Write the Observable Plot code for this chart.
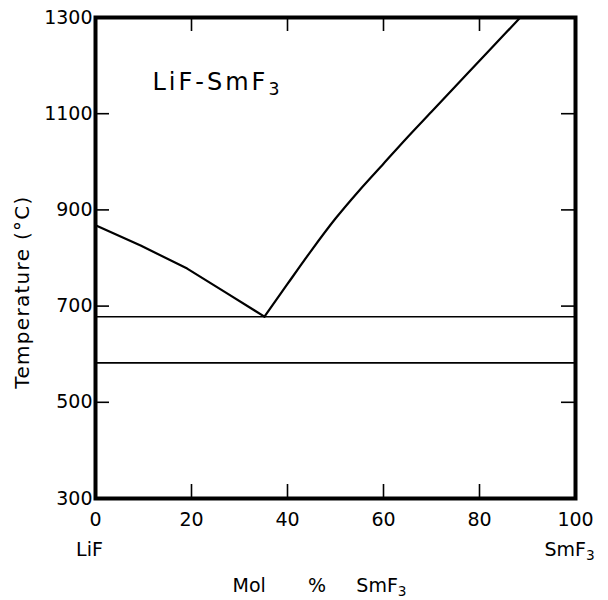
<!DOCTYPE html>
<html>
<head>
<meta charset="utf-8">
<script src="https://cdn.jsdelivr.net/npm/d3@7"></script>
<script src="https://cdn.jsdelivr.net/npm/@observablehq/plot@0.6"></script>
<style>
  html, body { margin: 0; padding: 0; background: #fff; }
  #chart svg { display: block; }
</style>
</head>
<body>
<div id="chart"></div>
<script>
// ---- data ----
const xTicks = [0, 20, 40, 60, 80, 100];
const yTicks = [300, 500, 700, 900, 1100, 1300];

// LiF-rich liquidus (mol % SmF3, °C)
const liqLeftX = [0, 9.4, 19.1, 27, 35.2];
const liqLeftT = [868, 826, 778, 729, 678];

// SmF3-rich liquidus
const liqRightX = [35.2, 40, 45, 50, 55, 60, 65, 70, 75, 80, 85, 88.5];
const liqRightT = [678, 746, 816, 882, 941, 996, 1051, 1104, 1157, 1210, 1263, 1300];

// horizontal invariant lines (°C)
const isotherms = [678, 582];

// end-member labels
const endX = [0, 100];
const endLabels = ["LiF", "SmF\u2083"];

const systemTitle = "LiF-SmF\u2083";
const yTitle = "Temperature (\u00B0C)";
const xTitle = "Mol" + "\u00A0".repeat(7) + "%" + "\u00A0".repeat(5) + "SmF\u2083";

// ---- build tables ----
const leftData = liqLeftX.map((x, i) => ({x, t: liqLeftT[i]}));
const rightData = liqRightX.map((x, i) => ({x, t: liqRightT[i]}));
const endData = endX.map((x, i) => ({x, label: endLabels[i]}));

const W = 608, H = 600;
const mL = 95, mR = 33, mT = 17, mB = 102;
const plotW = W - mL - mR, plotH = H - mT - mB;
const tickLen = 14;

const chart = Plot.plot({
  width: W,
  height: H,
  marginLeft: mL,
  marginRight: mR,
  marginTop: mT,
  marginBottom: mB,
  style: {fontFamily: "DejaVu Sans", fontSize: "19px", background: "white", color: "black"},
  x: {domain: [0, 100]},
  y: {domain: [300, 1300]},
  marks: [
    // inward ticks
    Plot.ruleY(yTicks, {y: d => d, insetRight: plotW - tickLen, stroke: "black", strokeWidth: 1.6}),
    Plot.ruleY(yTicks, {y: d => d, insetLeft: plotW - tickLen, stroke: "black", strokeWidth: 1.6}),
    Plot.ruleX(xTicks, {x: d => d, insetTop: plotH - tickLen, stroke: "black", strokeWidth: 1.6}),
    Plot.ruleX(xTicks, {x: d => d, insetBottom: plotH - tickLen, stroke: "black", strokeWidth: 1.6}),
    // isotherms
    Plot.ruleY(isotherms, {y: d => d, stroke: "black", strokeWidth: 1.6}),
    // liquidus curves
    Plot.line(leftData, {x: "x", y: "t", stroke: "black", strokeWidth: 2.2}),
    Plot.line(rightData, {x: "x", y: "t", stroke: "black", strokeWidth: 2.2, curve: "monotone-x"}),
    // frame
    Plot.frame({stroke: "black", strokeWidth: 4}),
    // axes labels
    Plot.axisY({ticks: yTicks, tickSize: 0, tickPadding: 3, tickFormat: d => String(d), label: null, fontSize: 19}),
    Plot.axisX({ticks: xTicks, tickSize: 0, tickPadding: 14, tickFormat: d => String(d), label: null, fontSize: 19}),
    // end member labels
    Plot.text(endData, {x: "x", text: "label", frameAnchor: "bottom", dy: 51, dx: -6, fontSize: 19, lineAnchor: "middle", textAnchor: "middle"}),
    // axis titles
    Plot.text([xTitle], {frameAnchor: "bottom-left", dx: 137, dy: 87, textAnchor: "start", lineAnchor: "middle", fontSize: 19}),
    Plot.text([yTitle], {frameAnchor: "left", rotate: -90, dx: -73, dy: 34, textAnchor: "middle", lineAnchor: "middle", fontSize: 20}),
    // system label
    Plot.text([systemTitle], {frameAnchor: "top-left", dx: 57, dy: 65, textAnchor: "start", lineAnchor: "middle", fontSize: 24})
  ]
});
const texts = d3.select(chart).selectAll("text");
texts.filter(function() { return this.textContent === systemTitle; })
  .style("letter-spacing", "3px");
texts.filter(function() { return this.textContent === yTitle; })
  .style("letter-spacing", "1.3px");
// render the subscript 3 as a lowered, smaller digit
texts.each(function() {
  const t = this.textContent;
  if (t.endsWith("\u2083")) {
    const sel = d3.select(this);
    sel.text(t.slice(0, -1));
    sel.append("tspan").attr("dy", "0.3em").attr("font-size", "0.72em").text("3");
  }
});
document.getElementById("chart").appendChild(chart);
</script>
</body>
</html>
